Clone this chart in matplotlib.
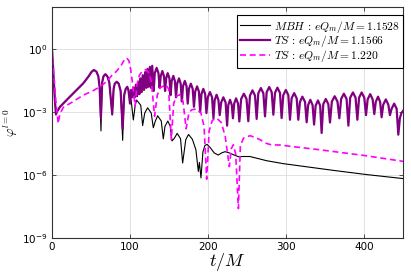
import numpy as np
import matplotlib
matplotlib.use("Agg")
from matplotlib import pyplot as plt
from matplotlib.font_manager import FontProperties

# (t/M, log10 phi)
mbh_pts = [
    (0, 0.0), (1.5, -1.0), (3.5, -2.3), (5.0, -3.15), (7.0, -2.95), (10.3, -2.75), (23, -2.27),
    (40.2, -1.63), (47, -1.3), (50.9, -1.08), (53.8, -1.0), (57, -1.08), (59.4, -1.3), (61, -1.8),
    (62.8, -3.9), (64.3, -1.6), (66, -1.3), (68.5, -1.2), (71, -1.3), (73.5, -1.6), (77.2, -3.15),
    (79, -1.9), (80.5, -1.65), (83, -1.56), (85.5, -1.65), (88, -2.0), (90.6, -4.35),
    (92.5, -2.2), (94.5, -1.9), (96.5, -1.85), (99, -2.05), (101.5, -2.45), (104.3, -3.38),
    (106.7, -2.68), (108.5, -2.43), (113.8, -2.68), (116.2, -3.65),
    (118.9, -3.05), (122.6, -2.8), (127.2, -3.05), (129.9, -3.75),
    (132.5, -3.43), (135.5, -3.18), (140.1, -3.43), (142.7, -4.28),
    (144.9, -3.68), (148.5, -3.43), (151.6, -3.68), (153.8, -4.38),
    (156.5, -4.27), (160.5, -4.02), (164.8, -4.27), (167.5, -5.43),
    (171.5, -4.32), (175, -4.07), (180, -4.3), (184.5, -4.8), (187.6, -5.83), (189, -5.4),
    (191, -6.14), (193.5, -4.9), (196, -4.6), (198.8, -4.54), (203, -4.7), (208, -4.95),
    (213.2, -5.05), (217.5, -4.95), (221.8, -4.89), (226, -4.93), (230.4, -5.0), (238.9, -5.13),
    (245, -5.12), (253.8, -5.12), (275.2, -5.32), (296.6, -5.46), (360.7, -5.78),
    (403.4, -5.98), (450, -6.17),
]

ts1_pts = [
    (0, 0.0), (1.5, -1.0), (3.5, -2.3), (5.0, -3.1), (7.0, -2.95), (10.3, -2.75), (23, -2.27),
    (40.2, -1.63), (47, -1.3), (50.9, -1.08), (53.8, -1.0), (57, -1.08), (59.4, -1.3), (61, -1.8),
    (62.7, -3.3), (64.3, -1.6), (66, -1.3), (68.5, -1.2), (71, -1.3), (73.5, -1.6), (77.2, -3.1),
    (79, -1.9), (80.5, -1.65), (83, -1.56), (85.5, -1.65), (88, -2.0), (90.6, -3.8),
    (92.5, -2.2), (94.5, -1.9), (96.5, -1.8), (98, -1.95), (100, -2.6),
    (101.5, -1.95), (103, -2.3), (104.5, -1.85), (106, -2.3), (107.5, -1.7), (109, -2.25),
    (110.5, -1.55), (112, -2.15), (113.5, -1.4), (115, -2.05), (116.5, -1.25), (118, -1.95),
    (119.5, -1.1), (121, -1.85), (122.5, -0.95), (124, -1.8), (125.5, -0.85), (127, -1.85),
    (128.5, -0.8), (130.3, -2.0),
    (131.8, -1.15), (134.2, -0.9), (136.5, -1.15), (138, -1.85),
    (139.4, -1.3), (141.5, -1.05), (143.6, -1.3), (145, -2.0),
    (146.4, -1.4), (148.3, -1.15), (150.6, -1.4), (152, -2.2),
    (153.4, -1.53), (155.6, -1.28), (157.6, -1.53), (159, -2.3),
    (160.5, -1.65), (162.8, -1.4), (165, -1.65), (166.5, -2.5),
    (168, -1.77), (170.3, -1.52), (172.5, -1.77), (174, -2.6),
    (175.6, -1.9), (178, -1.65), (180.4, -1.9), (182, -2.75),
    (183.6, -2.03), (186, -1.78), (188.4, -2.03), (190, -3.0),
    (191.6, -2.15), (194, -1.9), (196.4, -2.15), (198, -3.05),
    (199.8, -2.3), (202.5, -2.05), (205.2, -2.3), (207, -3.3),
    (208.6, -2.43), (211, -2.18), (213.4, -2.43), (215, -3.15),
    (216.9, -2.55), (219.7, -2.3), (222.6, -2.55), (224.5, -3.65),
    (226, -2.67), (228.3, -2.42), (230.5, -2.67), (232, -3.3),
    (233.6, -2.6), (236, -2.35), (238.5, -2.6), (240.2, -3.45),
    (242.5, -2.38), (246, -2.13), (249.4, -2.38), (251.7, -3.44),
    (253.8, -2.22), (257, -1.97), (260.3, -2.22), (262.4, -3.33),
    (264.5, -2.11), (267.8, -1.86), (271, -2.11), (273.1, -3.21),
    (275.2, -2.06), (278.5, -1.81), (281.7, -2.06), (283.8, -3.13),
    (285.9, -2.09), (289, -1.84), (292.3, -2.09), (294.4, -3.29),
    (296.5, -2.2), (299.8, -1.95), (303, -2.2), (305.1, -3.37),
    (307.2, -2.35), (310.5, -2.1), (313.7, -2.35), (315.8, -3.37),
    (317.9, -2.52), (321, -2.27), (324.4, -2.52), (326.5, -3.49),
    (328.4, -2.67), (331.2, -2.42), (334.1, -2.67), (336, -3.6),
    (338, -2.7), (341, -2.45), (343.8, -2.7), (345.7, -4.0),
    (347.8, -2.63), (351, -2.38), (354.3, -2.63), (356.4, -3.5),
    (358.8, -2.5), (362.4, -2.25), (366, -2.5), (368.4, -3.3),
    (370.7, -2.38), (374.2, -2.13), (377.7, -2.38), (380, -3.65),
    (382.3, -2.32), (385.8, -2.07), (389.2, -2.32), (391.5, -3.37),
    (393.7, -2.32), (397, -2.07), (400.4, -2.32), (402.6, -3.15),
    (404.7, -2.4), (408, -2.15), (411.1, -2.4), (413.2, -3.1),
    (415.1, -2.52), (418, -2.27), (420.7, -2.52), (422.6, -3.25),
    (424.7, -2.65), (428, -2.4), (431.2, -2.65), (433.3, -3.15),
    (435.4, -2.85), (438.7, -2.6), (441.9, -2.85), (444, -4.08),
    (446, -3.3), (448, -3.05), (450, -2.95),
]

ts2_pts = [
    (0, 0.0), (2.5, -1.3), (5, -2.5), (8, -3.55), (10, -3.1), (14.5, -2.78), (25, -2.55),
    (40, -2.2), (52, -2.0), (61.5, -1.8), (70, -1.55), (77, -1.25), (83, -1.05), (89, -0.76),
    (93, -0.5), (95.7, -0.43), (98.5, -0.55), (101, -1.0), (103.5, -1.7), (106.5, -2.7),
    (109, -1.7), (112, -1.25), (116, -1.05), (120.5, -0.98), (124.5, -1.15), (127.5, -1.6),
    (131.5, -3.2), (135, -2.2), (138.5, -1.85), (146, -1.7), (149.5, -1.9), (153, -4.3),
    (156, -2.6), (159.5, -2.25), (164, -2.17), (168, -2.5), (172, -3.8), (175.5, -3.05),
    (179, -2.9), (185, -2.85), (191, -3.05), (195, -3.7), (198.3, -6.2), (201.5, -3.9),
    (205.5, -3.4), (211, -3.29), (217, -3.5), (222, -4.15), (227.4, -5.6), (229.8, -4.75),
    (232.5, -4.56), (235.5, -5.0), (239, -7.6), (241.5, -4.6), (245.5, -4.25), (253.8, -4.13),
    (260, -4.2), (266.7, -4.32), (275.2, -4.5), (282, -4.57), (292, -4.57), (313.7, -4.67),
    (343.6, -4.8), (400, -5.07), (450, -5.35),
]

labels = [r"$MBH\,:\,eQ_m/M = 1.1528$",
          r"$TS\,:\,eQ_m/M = 1.1566$",
          r"$TS\,:\,eQ_m/M = 1.220$"]

fig = plt.figure(figsize=(4.11, 2.74), dpi=100)
ax = fig.add_axes([0.1265, 0.1314, 0.854, 0.8431])

t, e = np.array(mbh_pts).T
ax.plot(t, 10.0 ** e, color='black', lw=0.8, label=labels[0])
t, e = np.array(ts1_pts).T
ax.plot(t, 10.0 ** e, color='#800080', lw=1.6, label=labels[1])
t, e = np.array(ts2_pts).T
ax.plot(t, 10.0 ** e, color='#ff00ff', lw=1.2, dashes=(3.6, 2.2), label=labels[2])

ax.set_yscale('log')
ax.set_xlim(0, 450)
ax.set_ylim(1e-9, 1e2)
ax.set_yticks([1e-9, 1e-6, 1e-3, 1e0])
ax.yaxis.set_minor_locator(matplotlib.ticker.NullLocator())
ax.set_xticks([0, 100, 200, 300, 400])
ax.grid(True, color='#e2e2e2', lw=0.7)
ax.set_axisbelow(True)
ax.tick_params(direction='in', top=True, right=True, labelsize=7.5, length=3,
               width=0.6, pad=3, color='#333333')
for s in ax.spines.values():
    s.set_color('#333333')
    s.set_linewidth(0.8)

ax.set_xlabel(r"$t/M$", fontsize=13, math_fontfamily='cm', labelpad=-1)
ax.set_ylabel(r"$\varphi^{l=0}$", fontsize=9.5, math_fontfamily='cm', labelpad=2)

leg = ax.legend(loc='upper right', bbox_to_anchor=(1.0, 0.965), borderaxespad=0,
                prop=FontProperties(size=8.3, math_fontfamily='cm'),
                fancybox=False, framealpha=1, edgecolor='black',
                handlelength=2.6, handletextpad=0.3, labelspacing=-0.1,
                borderpad=0.3)
leg.get_frame().set_linewidth(0.8)

fig.savefig('out.png', dpi=100)
